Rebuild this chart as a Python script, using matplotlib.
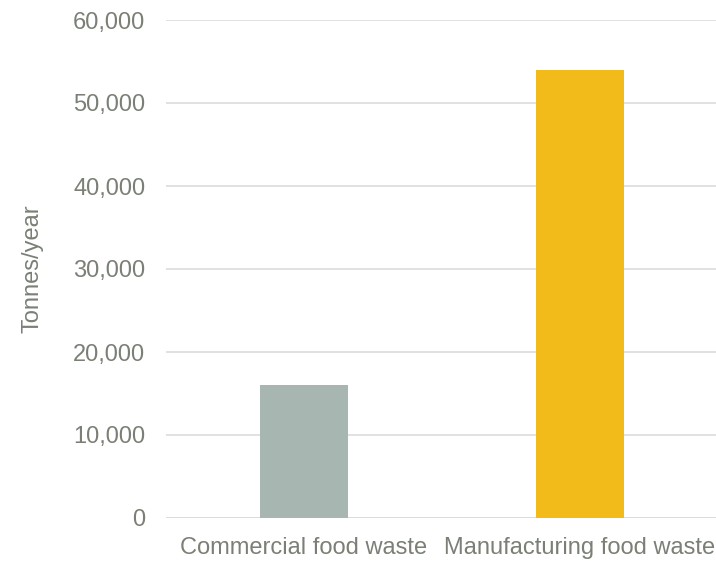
import matplotlib
matplotlib.use("Agg")
import matplotlib.pyplot as plt
from matplotlib.ticker import FuncFormatter

# Data
categories = ["Commercial food waste", "Manufacturing food waste"]
values = [16000, 54000]
colors = ["#A8B6B2", "#F2BB1A"]
y_ticks = [0, 10000, 20000, 30000, 40000, 50000, 60000]

text_color = "#7A8075"
grid_color = "#DCDCDC"

plt.rcParams["font.family"] = ["Liberation Sans", "DejaVu Sans"]

fig = plt.figure(figsize=(7.16, 5.61), dpi=100)
ax = fig.add_axes([166 / 716, 1 - 518 / 561, 552 / 716, 498 / 561])

x = list(range(len(categories)))
ax.bar(x, values, width=0.32, color=colors, zorder=3)

ax.set_xlim(-0.5, 1.5)
ax.set_ylim(0, 60000)
ax.set_yticks(y_ticks)
ax.yaxis.set_major_formatter(FuncFormatter(lambda v, p: f"{int(v):,}"))
ax.set_xticks(x)
ax.set_xticklabels(categories)

ax.grid(axis="y", color=grid_color, linewidth=1.2, zorder=0)
for s in ax.spines.values():
    s.set_visible(False)
ax.axhline(0, color=grid_color, linewidth=1.2, zorder=1)

ax.tick_params(axis="y", length=0, pad=15, labelsize=17, labelcolor=text_color)
ax.tick_params(axis="x", length=0, pad=14, labelsize=17, labelcolor=text_color)

fig.text(32 / 716, 1 - 269 / 561, "Tonnes/year", rotation=90, ha="center",
         va="center", fontsize=17, color=text_color)

fig.savefig("out.png", dpi=100)
